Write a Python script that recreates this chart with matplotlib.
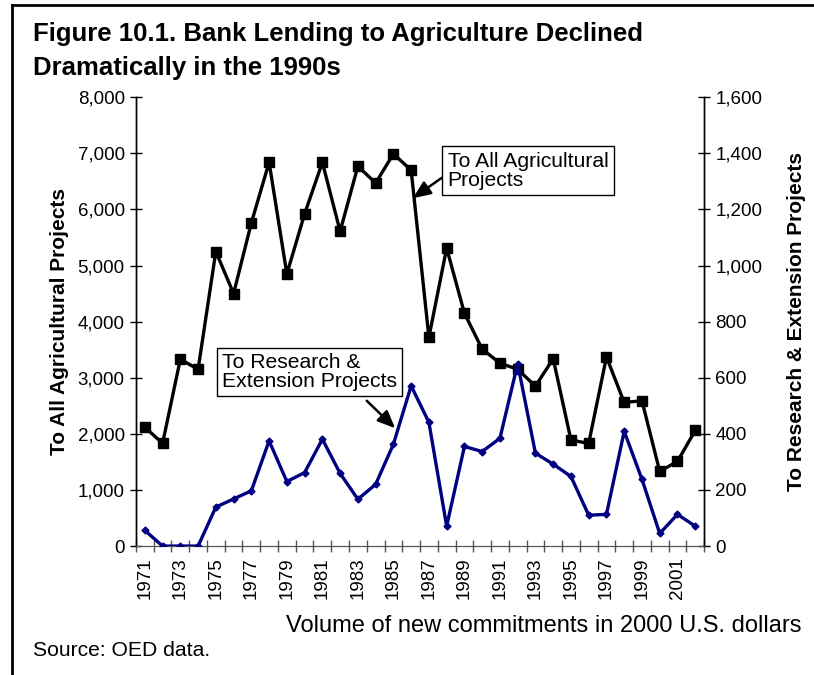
import matplotlib
matplotlib.use("Agg")
import matplotlib.pyplot as plt
from matplotlib.lines import Line2D
from matplotlib.ticker import FuncFormatter, MultipleLocator, FixedLocator

plt.rcParams['font.family'] = ['Liberation Sans', 'DejaVu Sans']

# new commitments, 2000 US$ millions
years = list(range(1971, 2003))
all_agri = [2120, 1830, 3330, 3150, 5250, 4500, 5760, 6840, 4850, 5920,
            6840, 5610, 6770, 6470, 6990, 6700, 3720, 5310, 4150, 3510,
            3260, 3150, 2850, 3340, 1890, 1830, 3370, 2560, 2590, 1330,
            1510, 2060]
research_ext = [56, 0, 0, 0, 139, 168, 197, 375, 230, 262,
                381, 259, 167, 220, 363, 571, 441, 71, 355, 337,
                384, 650, 331, 292, 248, 110, 113, 409, 238, 45,
                113, 71]
tick_years = [str(y) for y in range(1971, 2003, 2)]

fig = plt.figure(figsize=(8.14, 6.75), dpi=100)
ax = fig.add_axes([0.167, 0.191, 0.698, 0.665])
ax2 = ax.twinx()

ax.plot(years, all_agri, color='black', lw=2.4, marker='s', ms=6.5,
        zorder=3)
ax2.plot(years, research_ext, color='#000080', lw=2.4, marker='D', ms=3.5,
         zorder=3)

ax.set_xlim(1970.5, 2002.5)
ax.set_ylim(0, 8000)
ax2.set_ylim(0, 1600)
ax.yaxis.set_major_locator(MultipleLocator(1000))
ax2.yaxis.set_major_locator(MultipleLocator(200))
comma = FuncFormatter(lambda v, p: f"{int(v):,}")
ax.yaxis.set_major_formatter(comma)
ax2.yaxis.set_major_formatter(comma)

ax.set_xticks(range(1971, 2003, 2))
ax.set_xticklabels(tick_years, rotation=90, fontsize=13.5)
ax.xaxis.set_minor_locator(FixedLocator([y + 0.5 for y in range(1970, 2003)]))
ax.tick_params(axis='x', which='major', length=0, pad=8)
ax.tick_params(axis='x', which='minor', direction='inout', length=8,
               width=1, color='#555555')

ax.tick_params(axis='y', direction='inout', length=8, width=1,
               labelsize=13.5, pad=4)
ax2.tick_params(axis='y', direction='inout', length=8, width=1,
                labelsize=13.5, pad=4)

for a in (ax, ax2):
    a.spines['top'].set_visible(False)
    a.spines['bottom'].set_color('#555555')
    a.spines['left'].set_linewidth(1)
    a.spines['right'].set_linewidth(1)

ax.set_ylabel("To All Agricultural Projects", fontsize=15,
              fontweight='bold', labelpad=6)
ax2.set_ylabel("To Research & Extension Projects", fontsize=15,
               fontweight='bold', labelpad=18)

box = dict(boxstyle='square,pad=0.25', fc='white', ec='black', lw=1)
arrow = dict(arrowstyle='-|>,head_length=0.7,head_width=0.3',
             color='black', lw=1.8, shrinkA=0, shrinkB=0)
ax.annotate("To All Agricultural\nProjects", xy=(1986.1, 6200),
            xytext=(1988.05, 6690), fontsize=15.2, ha='left', va='center',
            bbox=box, linespacing=1.0,
            arrowprops=dict(arrow, relpos=(0, 0.42)))
ax.annotate("To Research &\nExtension Projects", xy=(1985.1, 2100),
            xytext=(1975.35, 3100), fontsize=15.2, ha='left', va='center',
            bbox=box, linespacing=1.0,
            arrowprops=dict(arrow, relpos=(0.77, 0), shrinkA=4))

fig.text(33 / 814, 1 - 22 / 675,
         "Figure 10.1. Bank Lending to Agriculture Declined\n"
         "Dramatically in the 1990s",
         fontsize=18.5, fontweight='bold', ha='left', va='top',
         linespacing=1.55)
fig.text(802 / 814, 1 - 632 / 675,
         "Volume of new commitments in 2000 U.S. dollars",
         fontsize=17, ha='right', va='baseline')
fig.text(33 / 814, 1 - 656 / 675, "Source: OED data.", fontsize=15.2,
         ha='left', va='baseline')

# frame lines along the top and left edges
fig.add_artist(Line2D([12 / 814, 1], [1 - 5 / 675, 1 - 5 / 675],
                      transform=fig.transFigure, color='black', lw=2))
fig.add_artist(Line2D([12 / 814, 12 / 814], [0, 1 - 5 / 675],
                      transform=fig.transFigure, color='black', lw=2))

fig.savefig("out.png", dpi=100)
